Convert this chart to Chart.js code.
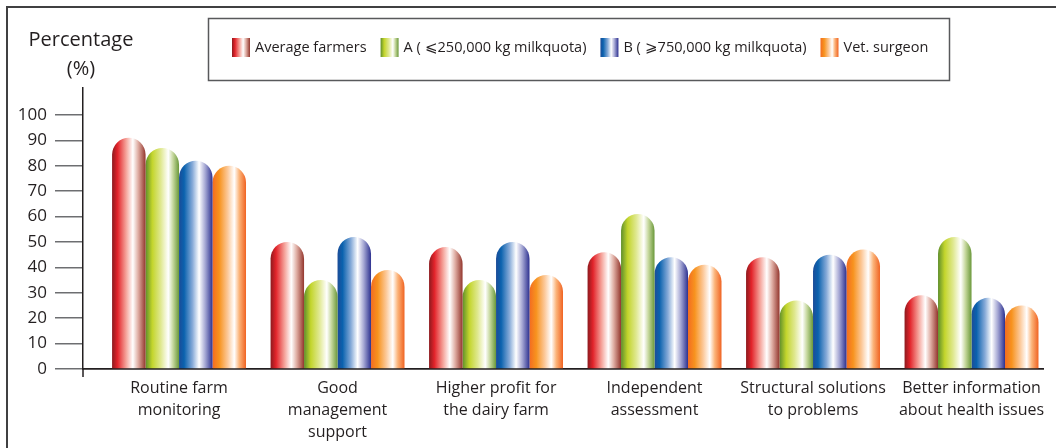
<!DOCTYPE html>
<html>
<head>
<meta charset="utf-8">
<script src="https://cdn.jsdelivr.net/npm/chart.js@4"></script>
<style>
  html, body { margin: 0; padding: 0; background: #ffffff; }
  #wrap { width: 1056px; height: 448px; position: relative; }
</style>
</head>
<body>
<div id="wrap"><canvas id="c" width="1056" height="448"></canvas></div>
<script>
// Survey categories (multi-line tick labels)
const categories = [
  ["Routine farm", "monitoring"],
  ["Good", "management", "support"],
  ["Higher profit for", "the dairy farm"],
  ["Independent", "assessment"],
  ["Structural solutions", "to problems"],
  ["Better information", "about health issues"]
];

const seriesNames = [
  "Average farmers",
  "A ( \u2A7D250,000 kg milkquota)",
  "B ( \u2A7E750,000 kg milkquota)",
  "Vet. surgeon"
];

// Percentages per group
const averageFarmers = [91, 50, 48, 46, 44, 29];
const quotaA         = [87, 35, 35, 61, 27, 52];
const quotaB         = [82, 52, 50, 44, 45, 28];
const vetSurgeon     = [80, 39, 37, 41, 47, 25];

const yTicks = [0, 10, 20, 30, 40, 50, 60, 70, 80, 90, 100];

// Horizontal "tube" shading for each series
const shades = [
  [[0, '#8c1a1e'], [0.16, '#e2232a'], [0.42, '#f5a49b'], [0.62, '#ffffff'], [0.78, '#dfada3'], [1, '#93362d']],
  [[0, '#5f8f2c'], [0.2, '#c3d52c'], [0.45, '#dfe88f'], [0.68, '#ffffff'], [0.82, '#c5d79c'], [1, '#6a983a']],
  [[0, '#1c4c98'], [0.15, '#0a62ae'], [0.4, '#86aad8'], [0.6, '#ffffff'], [0.78, '#a6a8d4'], [1, '#2d3190']],
  [[0, '#f36c21'], [0.2, '#f7931e'], [0.45, '#fcc898'], [0.65, '#ffffff'], [0.8, '#fbb378'], [1, '#f06322']]
];

const seriesValues = [averageFarmers, quotaA, quotaB, vetSurgeon];
const CAT_PCT = 0.845;
const TEXT = '#231f20';
const FONT = '"Open Sans", "Noto Sans", sans-serif';

function tubeGradient(ctx, x0, w, stops) {
  const g = ctx.createLinearGradient(x0, 0, x0 + w, 0);
  stops.forEach(([o, c]) => g.addColorStop(o, c));
  return g;
}

function barFill(c) {
  const chart = c.chart;
  const stops = shades[c.datasetIndex];
  const xs = chart.scales.x;
  if (!xs || c.dataIndex === undefined || !isFinite(xs.getPixelForValue(0))) return stops[1][1];
  const step = xs.getPixelForValue(1) - xs.getPixelForValue(0);
  const group = step * CAT_PCT;
  const w = group / seriesValues.length;
  const left = xs.getPixelForValue(c.dataIndex) - group / 2 + w * c.datasetIndex;
  return tubeGradient(chart.ctx, left, w, stops);
}

const datasets = seriesValues.map((vals, s) => ({
  label: seriesNames[s],
  data: vals.map((v, i) => ({ x: i, y: v })),
  backgroundColor: barFill,
  borderWidth: 0,
  borderRadius: 100,
  borderSkipped: 'bottom',
  categoryPercentage: CAT_PCT,
  barPercentage: 1.0
}));

const decor = {
  id: 'decor',
  beforeDraw(chart) {
    const ctx = chart.ctx;
    ctx.save();
    // outer frame (left and top edges)
    ctx.strokeStyle = '#404041';
    ctx.lineWidth = 2;
    ctx.beginPath();
    ctx.moveTo(7, 448);
    ctx.lineTo(7, 7);
    ctx.lineTo(1056, 7);
    ctx.stroke();
    ctx.restore();
  },
  afterDraw(chart) {
    const ctx = chart.ctx;
    const area = chart.chartArea;
    ctx.save();
    // axis stub below the baseline
    ctx.strokeStyle = TEXT;
    ctx.lineWidth = 1.5;
    ctx.beginPath();
    ctx.moveTo(area.left, area.bottom);
    ctx.lineTo(area.left, area.bottom + 8);
    ctx.stroke();

    // axis title
    ctx.fillStyle = TEXT;
    ctx.font = '20px ' + FONT;
    ctx.textAlign = 'center';
    ctx.textBaseline = 'middle';
    ctx.fillText('Percentage', 81, 40);
    ctx.fillText('(%)', 81, 69);

    // legend box
    ctx.strokeStyle = '#58595b';
    ctx.lineWidth = 1.5;
    ctx.strokeRect(208.5, 18.5, 741, 62);

    ctx.font = '14.5px ' + FONT;
    ctx.textAlign = 'left';
    let x = 232;
    seriesNames.forEach((name, s) => {
      ctx.fillStyle = tubeGradient(ctx, x, 18, shades[s]);
      ctx.fillRect(x, 38, 18, 19);
      x += 18 + 5;
      ctx.fillStyle = TEXT;
      ctx.fillText(name, x, 48);
      x += ctx.measureText(name).width + 14;
    });
    ctx.restore();
  }
};

new Chart(document.getElementById('c'), {
  type: 'bar',
  data: { datasets },
  options: {
    responsive: false,
    animation: false,
    devicePixelRatio: 1,
    layout: { padding: { top: 88, right: 13, left: 0, bottom: 0 } },
    plugins: { legend: { display: false }, tooltip: { enabled: false } },
    scales: {
      x: {
        type: 'linear',
        offset: false,
        min: -0.606,
        max: 5.451,
        afterBuildTicks: s => { s.ticks = categories.map((_, i) => ({ value: i })); },
        afterFit: s => { s.height = 79; },
        grid: { display: true, offset: false, drawOnChartArea: false, drawTicks: false },
        border: { display: true, color: TEXT, width: 1.8 },
        ticks: {
          autoSkip: false,
          maxRotation: 0,
          padding: 8,
          color: TEXT,
          font: { family: FONT, size: 16, lineHeight: 1.375 },
          callback: v => categories[v]
        }
      },
      y: {
        type: 'linear',
        min: 0,
        max: 110.6,
        afterBuildTicks: s => { s.ticks = yTicks.map(v => ({ value: v })); },
        afterFit: s => { s.width = 83; },
        grid: { display: true, drawOnChartArea: false, drawTicks: true, tickLength: 28, color: '#6d6e71', lineWidth: 1.5 },
        border: { display: true, color: TEXT, width: 1.5 },
        ticks: {
          padding: 8,
          color: TEXT,
          font: { family: FONT, size: 17 },
          callback: v => String(v)
        }
      }
    }
  },
  plugins: [decor]
});
</script>
</body>
</html>
